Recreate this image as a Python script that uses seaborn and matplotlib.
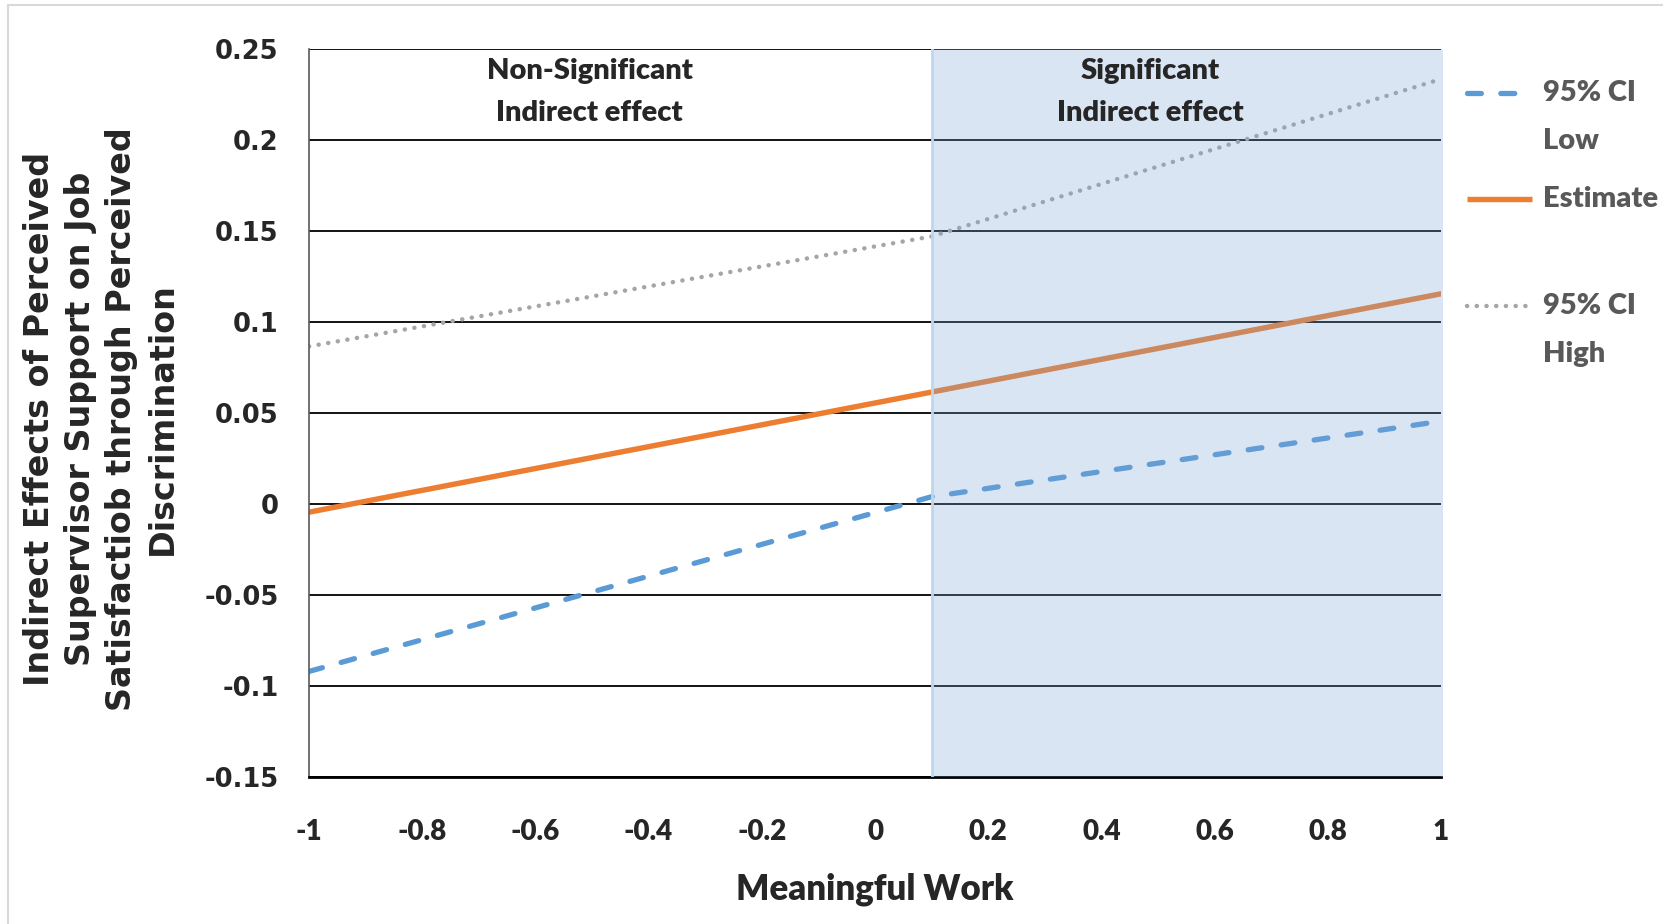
import matplotlib
matplotlib.use("Agg")
import matplotlib.pyplot as plt
from matplotlib.lines import Line2D
import pandas as pd
import seaborn as sns

# values (kinks sit at the Johnson-Neyman point 0.1)
meaningful_work = [-1.0, 0.1, 1.0]
ci_low = [-0.092, 0.004, 0.0455]
estimate = [-0.0045, 0.0615, 0.1155]
ci_high = [0.0866, 0.147, 0.2335]
sig_start = 0.1

x_ticks = [-1, -0.8, -0.6, -0.4, -0.2, 0, 0.2, 0.4, 0.6, 0.8, 1]
y_ticks = [-0.15, -0.1, -0.05, 0, 0.05, 0.1, 0.15, 0.2, 0.25]
region_text = ["Non-Significant\nIndirect effect", "Significant\nIndirect effect"]
legend_text = [["95% CI", "Low"], ["Estimate"], ["95% CI", "High"]]

blue = "#5B9BD5"
orange = "#ED7D31"
grey = "#A5A5A5"

sns.set_style("white")
narrow = ["Lato", "DejaVu Sans"]
plt.rcParams["font.family"] = ["DejaVu Sans"]
plt.rcParams["lines.scale_dashes"] = False

df = pd.DataFrame({"x": meaningful_work, "low": ci_low, "est": estimate, "high": ci_high})

W, H = 1663, 924
fig = plt.figure(figsize=(W / 100, H / 100), dpi=100)
ax = fig.add_axes([309 / W, 1 - 777 / H, (1441 - 309) / W, (777 - 49) / H])

low_style = dict(color=blue, lw=3.8, dashes=(10, 14), dash_capstyle="round")
est_style = dict(color=orange, lw=3.9, solid_capstyle="butt")
high_style = dict(color=grey, lw=3.2, dashes=(0.1, 6.9), dash_capstyle="round")

# the three lines
sns.lineplot(data=df, x="x", y="low", ax=ax, color=blue, linewidth=low_style["lw"])
ax.lines[-1].set_dashes(low_style["dashes"])
ax.lines[-1].set_dash_capstyle("round")
sns.lineplot(data=df, x="x", y="est", ax=ax, color=orange, linewidth=est_style["lw"])
sns.lineplot(data=df, x="x", y="high", ax=ax, color=grey, linewidth=high_style["lw"])
ax.lines[-1].set_dashes(high_style["dashes"])
ax.lines[-1].set_dash_capstyle("round")

# shaded significance region, drawn over the lines like the original
ax.axvspan(sig_start, 1.004, color="#78A5D7", alpha=0.28, zorder=5, lw=0, clip_on=False)
ax.axvline(sig_start, color="#BDD7EE", lw=2, zorder=5)

ax.set_xlim(-1, 1)
ax.set_ylim(-0.15, 0.25)
ax.set_xticks(x_ticks)
ax.set_yticks(y_ticks)
ax.set_xticklabels([f"{v:g}" for v in x_ticks], family=narrow, fontweight="heavy", fontsize=20)
ax.set_yticklabels([f"{v:g}" for v in y_ticks], fontweight="bold", fontsize=18.5)
ax.tick_params(axis="both", length=0)
ax.tick_params(axis="y", pad=22)
ax.tick_params(axis="x", pad=30)

ax.yaxis.grid(True, color="black", lw=1.3)
ax.set_axisbelow(True)
for s in ["top", "right"]:
    ax.spines[s].set_visible(False)
ax.spines["left"].set_color("#595959")
ax.spines["left"].set_linewidth(1.2)
ax.spines["bottom"].set_color("black")
ax.spines["bottom"].set_linewidth(2)

ax.set_xlabel("Meaningful Work", family=narrow, fontweight="heavy", fontsize=25, va="center")
ax.xaxis.set_label_coords(0.5, -0.154)
ax.set_ylabel("Indirect Effects of Perceived\nSupervisor Support on Job\n"
              "Satisfactiob through Perceived\nDiscrimination",
              fontweight="bold", fontsize=24, va="center", ha="center",
              multialignment="center", linespacing=1.3)
ax.yaxis.set_label_coords(-0.184, 0.492)

# region captions
for txt, xc in zip(region_text, [-0.504, 0.486]):
    ax.text(xc, 0.2262, txt, ha="center", va="center", family=narrow,
            fontweight="heavy", fontsize=21, linespacing=1.75, zorder=6)

# legend drawn by hand so the keys sit on the first text line
leg_rows = [93, 199, 306]
for yp, st, lab in zip(leg_rows, [low_style, est_style, high_style], legend_text):
    fig.add_artist(Line2D([1467 / W, 1532 / W], [1 - yp / H] * 2, transform=fig.transFigure, **st))
    for i, line in enumerate(lab):
        fig.text(1543 / W, 1 - (yp + 48 * i) / H, line, ha="left", va="center",
                 family=narrow, fontweight="heavy", fontsize=21, color="#595959")

# faint border of the original chart area
fig.add_artist(Line2D([8 / W, 8 / W], [0, 1 - 5 / H], transform=fig.transFigure, color="#D9D9D9", lw=1.5))
fig.add_artist(Line2D([8 / W, 1], [1 - 5 / H, 1 - 5 / H], transform=fig.transFigure, color="#D9D9D9", lw=1.5))

fig.savefig("out.png", dpi=100)
